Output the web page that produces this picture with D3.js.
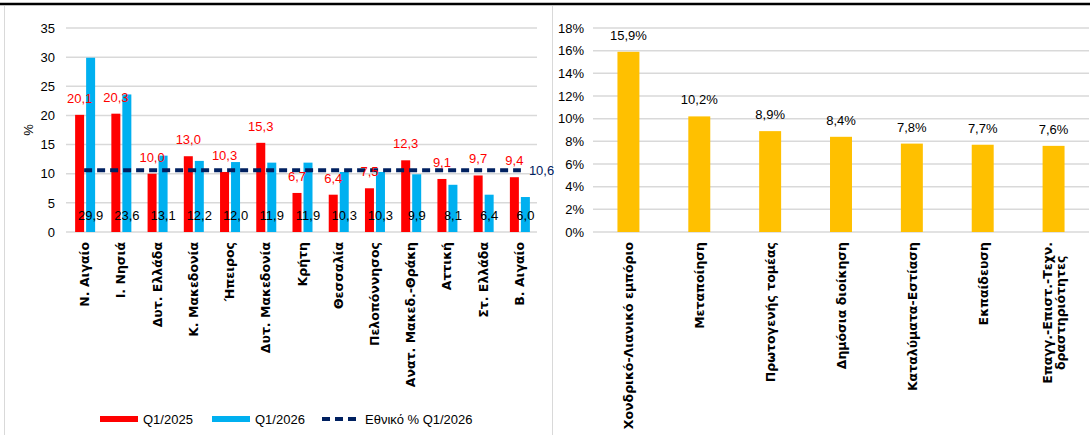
<!DOCTYPE html>
<html lang="el">
<head>
<meta charset="UTF-8" />
<title>Περιφέρειες και κλάδοι</title>
<script src="https://d3js.org/d3.v7.min.js"></script>
<style>
    body { margin: 0; background: #fff; }
    svg { display: block; }
    .num { font-family: "Liberation Sans", Arial, sans-serif; font-size: 13px; }
    .cat { font-family: "DejaVu Sans", sans-serif; font-size: 12.5px; font-weight: bold; fill: #000; }
    .grid line { stroke: #d9d9d9; stroke-width: 1.5px; }
</style>
</head>
<body>
<svg width="1090" height="435"></svg>
<script>
// left chart: regions
const regions = ["Ν. Αιγαίο", "Ι. Νησιά", "Δυτ. Ελλάδα", "Κ. Μακεδονία", "Ήπειρος", "Δυτ. Μακεδονία",
    "Κρήτη", "Θεσσαλία", "Πελοπόννησος", "Ανατ. Μακεδ.-Θράκη", "Αττική", "Στ. Ελλάδα", "Β. Αιγαίο"];
const q2025 = [20.1, 20.3, 10.0, 13.0, 10.3, 15.3, 6.7, 6.4, 7.5, 12.3, 9.1, 9.7, 9.4];
const q2026 = [29.9, 23.6, 13.1, 12.2, 12.0, 11.9, 11.9, 10.3, 10.3, 9.9, 8.1, 6.4, 6.0];
const national = 10.6;
const leftTicks = [0, 5, 10, 15, 20, 25, 30, 35];
const legendNames = ["Q1/2025", "Q1/2026", "Εθνικό % Q1/2026"];

// right chart: sectors
const sectors = [["Χονδρικό-Λιανικό εμπόριο"], ["Μεταποίηση"], ["Πρωτογενής τομέας"], ["Δημόσια διοίκηση"],
    ["Καταλύματα-Εστίαση"], ["Εκπαίδευση"], ["Επαγγ.-Επιστ.-Τεχν.", "δραστηριότητες"]];
const sectorShare = [15.9, 10.2, 8.9, 8.4, 7.8, 7.7, 7.6];
const rightTicks = [0, 2, 4, 6, 8, 10, 12, 14, 16, 18];

const RED = "#ff0000", BLUE = "#00b0f0", NAVY = "#002060", GOLD = "#ffc000";
const fmt = v => v.toFixed(1).replace(".", ",");

const svg = d3.select("svg");
svg.append("rect").attr("width", 1090).attr("height", 435).attr("fill", "#fff");

// frame bits
svg.append("line").attr("x1", 0).attr("x2", 1090).attr("y1", 4).attr("y2", 4)
    .attr("stroke", "#000").attr("stroke-width", 2.5);
svg.append("line").attr("x1", 4.5).attr("x2", 4.5).attr("y1", 6).attr("y2", 435)
    .attr("stroke", "#d9d9d9").attr("stroke-width", 1);
svg.append("line").attr("x1", 552.5).attr("x2", 552.5).attr("y1", 6).attr("y2", 435)
    .attr("stroke", "#d9d9d9").attr("stroke-width", 1);

// ---------- left ----------
const x0 = d3.scaleBand().domain(regions).range([66, 537]);
const y0 = d3.scaleLinear().domain([0, 35]).range([232, 28]);
const L = svg.append("g");

L.append("g").attr("class", "grid").selectAll("line").data(leftTicks).join("line")
    .attr("x1", 66).attr("x2", 537).attr("y1", d => y0(d)).attr("y2", d => y0(d));

L.append("g").attr("transform", "translate(55,0)")
    .call(d3.axisLeft(y0).tickValues(leftTicks).tickSize(0).tickPadding(0))
    .call(g => g.select(".domain").remove())
    .call(g => g.selectAll("text").attr("class", "num").attr("fill", "#000"));

L.append("text").attr("class", "num").attr("transform", `translate(33,${y0(17.5)}) rotate(-90)`)
    .attr("text-anchor", "middle").text("%");

const bw = 9;
const cx = d => x0(d) + x0.bandwidth() / 2;

L.selectAll(".r").data(regions).join("rect")
    .attr("x", d => cx(d) - bw).attr("width", bw)
    .attr("y", (d, i) => y0(q2025[i])).attr("height", (d, i) => y0(0) - y0(q2025[i]))
    .attr("fill", RED);
L.selectAll(".b").data(regions).join("rect")
    .attr("x", d => cx(d) + 2).attr("width", bw)
    .attr("y", (d, i) => y0(q2026[i])).attr("height", (d, i) => y0(0) - y0(q2026[i]))
    .attr("fill", BLUE);

L.append("line").attr("x1", cx(regions[0])).attr("x2", cx(regions[regions.length - 1]) + 2)
    .attr("y1", y0(national)).attr("y2", y0(national))
    .attr("stroke", NAVY).attr("stroke-width", 4).attr("stroke-dasharray", "8,5");
L.append("text").attr("class", "num").attr("x", cx(regions[regions.length - 1]) + 10)
    .attr("y", y0(national) + 5).attr("fill", NAVY).text(fmt(national));

L.selectAll(".rl").data(regions).join("text").attr("class", "num")
    .attr("x", d => cx(d) - bw / 2).attr("y", (d, i) => y0(q2025[i]) - 12)
    .attr("text-anchor", "middle").attr("fill", RED).text((d, i) => fmt(q2025[i]));
L.selectAll(".bl").data(regions).join("text").attr("class", "num")
    .attr("x", d => cx(d) + bw / 2 + 2).attr("y", 220)
    .attr("text-anchor", "middle").attr("fill", "#000").text((d, i) => fmt(q2026[i]));

L.selectAll(".xl").data(regions).join("text").attr("class", "cat")
    .attr("transform", d => `translate(${cx(d) + 5},242) rotate(-90)`)
    .attr("text-anchor", "end").text(d => d);

// legend
const lg = L.append("g").attr("transform", "translate(0,419)");
const legendX = [100, 212, 322];
const legendColors = [RED, BLUE, NAVY];
legendNames.forEach((n, i) => {
    const line = lg.append("line").attr("x1", legendX[i]).attr("x2", legendX[i] + 38)
        .attr("stroke", legendColors[i]);
    if (i < 2) line.attr("stroke-width", 6);
    else line.attr("stroke-width", 4).attr("stroke-dasharray", "8,5");
    lg.append("text").attr("class", "num").attr("x", legendX[i] + 43).attr("y", 5)
        .attr("fill", "#000").text(n);
});

// ---------- right ----------
const x1 = d3.scaleBand().domain(sectors.map(d => d[0])).range([593, 1089]).paddingInner(0.69).paddingOuter(0.345);
const y1 = d3.scaleLinear().domain([0, 18]).range([232, 28]);
const R = svg.append("g");
const sc = d => x1(d[0]) + x1.bandwidth() / 2;

R.append("g").attr("class", "grid").selectAll("line").data(rightTicks).join("line")
    .attr("x1", 593).attr("x2", 1089).attr("y1", d => y1(d)).attr("y2", d => y1(d));

R.append("g").attr("transform", "translate(584,0)")
    .call(d3.axisLeft(y1).tickValues(rightTicks).tickSize(0).tickPadding(0).tickFormat(d => d + "%"))
    .call(g => g.select(".domain").remove())
    .call(g => g.selectAll("text").attr("class", "num").attr("fill", "#000"));

R.selectAll(".s").data(sectors).join("rect")
    .attr("x", d => x1(d[0])).attr("width", x1.bandwidth())
    .attr("y", (d, i) => y1(sectorShare[i])).attr("height", (d, i) => y1(0) - y1(sectorShare[i]))
    .attr("fill", GOLD);
R.selectAll(".sl").data(sectors).join("text").attr("class", "num")
    .attr("x", sc).attr("y", (d, i) => y1(sectorShare[i]) - 12)
    .attr("text-anchor", "middle").attr("fill", "#000").text((d, i) => fmt(sectorShare[i]) + "%");

// category labels; multi-line ones are centred on their longest line
R.selectAll(".sx").data(sectors).join("text").attr("class", "cat")
    .each(function (d) {
        const t = d3.select(this);
        d.forEach((line, k) => {
            t.append("tspan").attr("x", 0).attr("y", k * 12.5).text(line);
        });
        if (d.length === 1) {
            t.attr("text-anchor", "end")
                .attr("transform", `translate(${sc(d) + 5},242) rotate(-90)`);
        } else {
            const w = d3.max(t.selectAll("tspan").nodes(), n => n.getComputedTextLength());
            t.attr("text-anchor", "middle")
                .attr("transform", `translate(${sc(d) + 5 - (d.length - 1) * 6.25},${242 + w / 2}) rotate(-90)`);
        }
    });
</script>
</body>
</html>
